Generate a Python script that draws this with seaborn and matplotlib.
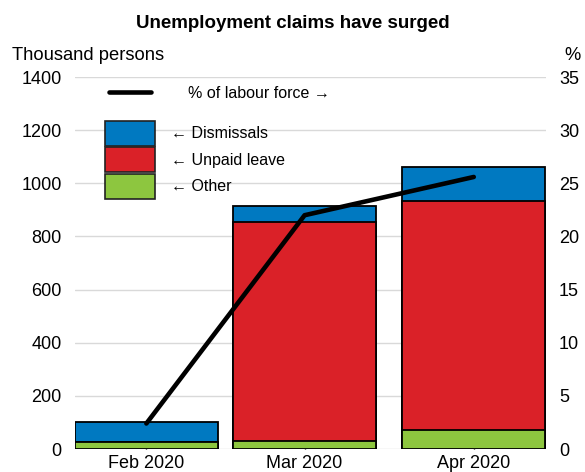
import matplotlib
matplotlib.use("Agg")
import matplotlib.pyplot as plt
from matplotlib.patches import Patch
from matplotlib.lines import Line2D
import numpy as np
import pandas as pd
import seaborn as sns

# Monthly unemployment claims (thousand persons) and share of labour force (%)
months = ["2020-02-01", "2020-03-01", "2020-04-01"]
month_labels = ["Feb 2020", "Mar 2020", "Apr 2020"]
other = [28, 30, 70]
unpaid_leave = [0, 825, 863]
dismissals = [72, 59, 127]
pct_labour_force = [2.4, 22.0, 25.6]

left_ticks = [0, 200, 400, 600, 800, 1000, 1200, 1400]
right_ticks = [0, 5, 10, 15, 20, 25, 30, 35]

BLUE = "#0079C1"
RED = "#DA2128"
GREEN = "#8DC63F"

sns.set_theme(style="white")
plt.rcParams["font.family"] = ["Liberation Sans", "DejaVu Sans"]
plt.rcParams["text.color"] = "black"

dates = pd.to_datetime(months)
days = (dates - dates[0]).days.to_numpy().astype(float)

df = pd.DataFrame({
    "day": days,
    "other": other,
    "unpaid": unpaid_leave,
    "dismissals": dismissals,
    "pct": pct_labour_force,
})
df["lvl_unpaid"] = df["other"] + df["unpaid"]
df["lvl_total"] = df["lvl_unpaid"] + df["dismissals"]

fig = plt.figure(figsize=(5.85, 4.72), dpi=100)
ax = fig.add_axes([0.128, 0.0487, 0.805, 0.788])

bar_kw = dict(native_scale=True, width=0.903, edgecolor="black",
              linewidth=1.3, saturation=1, ax=ax, zorder=2)
sns.barplot(data=df, x="day", y="lvl_total", color=BLUE, **bar_kw)
sns.barplot(data=df, x="day", y="lvl_unpaid", color=RED, **bar_kw)
sns.barplot(data=df, x="day", y="other", color=GREEN, **bar_kw)

ax.set_xlim(-13.1, 73.2)
ax.set_ylim(0, 1400)
ax.set_yticks(left_ticks)
ax.set_yticklabels([str(t) for t in left_ticks])
ax.set_xticks(days)
ax.set_xticklabels(month_labels)
ax.set_xlabel("")
ax.set_ylabel("")
ax.yaxis.grid(True, color="#D9D9D9", linewidth=1.0, zorder=0)
ax.set_axisbelow(True)
for s in ax.spines.values():
    s.set_visible(False)
ax.tick_params(axis="y", length=0, pad=9.5, labelsize=13, colors="black")
ax.tick_params(axis="x", direction="in", length=6, width=1.0, color="black",
               pad=4, labelsize=13, labelcolor="black", bottom=True)
for t in ax.get_xticklines():
    t.set_zorder(5)

ax2 = ax.twinx()
sns.lineplot(data=df, x="day", y="pct", color="black", linewidth=3.3,
             ax=ax2, zorder=6)
ax2.set_ylim(0, 35)
ax2.set_yticks(right_ticks)
ax2.set_yticklabels([str(t) for t in right_ticks])
ax2.set_ylabel("")
ax2.set_xlabel("")
ax2.set_xlim(-13.1, 73.2)
for s in ax2.spines.values():
    s.set_visible(False)
ax2.tick_params(axis="y", length=0, pad=9.5, labelsize=13, colors="black")
ax2.grid(False)

fig.text(0.5, 1 - 28 / 472, "Unemployment claims have surged",
         fontsize=13.5, fontweight="bold", ha="center", va="baseline",
         color="black")
fig.text(12 / 585, 1 - 60 / 472, "Thousand persons", fontsize=13.2,
         ha="left", va="baseline", color="black")
fig.text(581 / 585, 1 - 60 / 472, "%", fontsize=13.2, ha="right",
         va="baseline", color="black")

fs = 11.5
line_handle = [Line2D([0], [0], color="black", linewidth=3.3)]
leg1 = fig.legend(line_handle, ["% of labour force \u2192"], loc="upper left",
                  bbox_to_anchor=(109 / 585, 1 - 85.5 / 472), frameon=False,
                  fontsize=fs, handlelength=2.63, handletextpad=2.3,
                  borderpad=0, borderaxespad=0, labelcolor="black")
patch_handles = [
    Patch(facecolor=BLUE, edgecolor="#222222", linewidth=1.2),
    Patch(facecolor=RED, edgecolor="#222222", linewidth=1.2),
    Patch(facecolor=GREEN, edgecolor="#222222", linewidth=1.2),
]
leg2 = fig.legend(patch_handles,
                  ["\u2190 Dismissals", "\u2190 Unpaid leave", "\u2190 Other"],
                  loc="upper left", bbox_to_anchor=(105 / 585, 1 - 121 / 472),
                  frameon=False, fontsize=fs, handlelength=3.13,
                  handleheight=1.99, labelspacing=0.12, handletextpad=1.0,
                  borderpad=0, borderaxespad=0, labelcolor="black")

fig.savefig("out.png", dpi=100)
